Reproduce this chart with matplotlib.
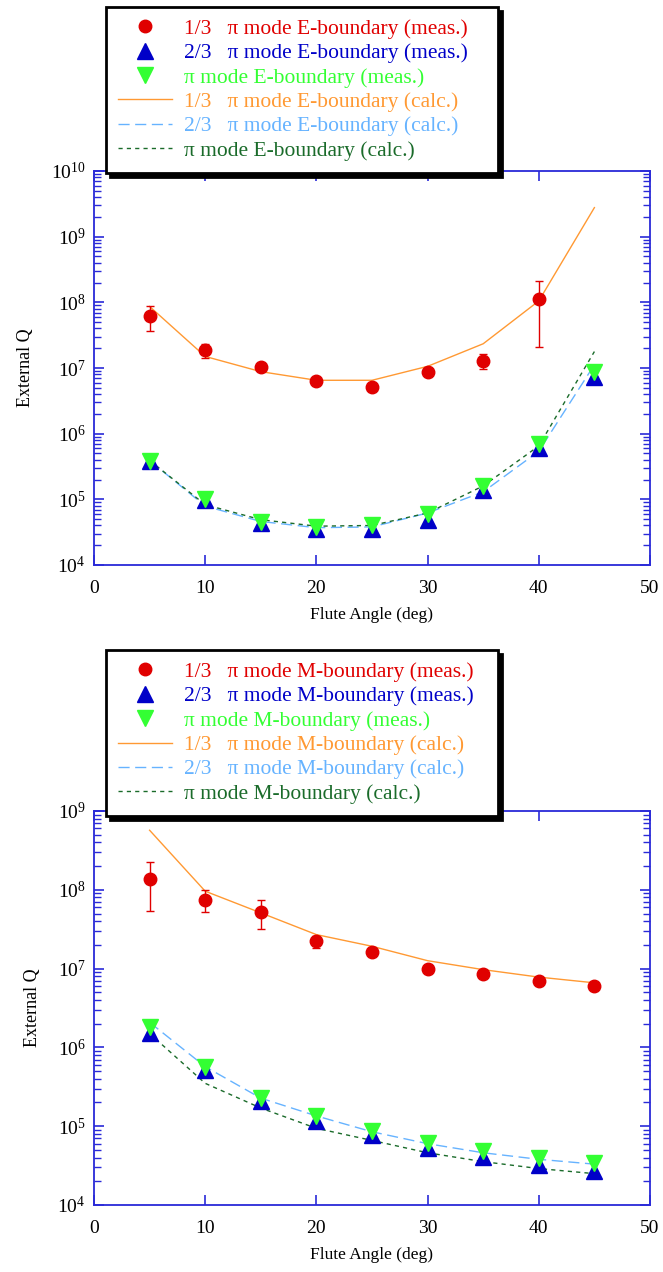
import matplotlib
matplotlib.use("Agg")
import matplotlib.pyplot as plt
from matplotlib.ticker import LogLocator, NullFormatter, FixedLocator
from matplotlib.lines import Line2D

plt.rcParams['font.family'] = ['Liberation Serif', 'DejaVu Serif']
plt.rcParams['mathtext.default'] = 'regular'

# ---------------- data ----------------
angles = [5, 10, 15, 20, 25, 30, 35, 40, 45]
angles_e13 = [5, 10, 15, 20, 25, 30, 35, 40]

# E-boundary
e13_meas = [6.2e7, 1.85e7, 1.03e7, 6.3e6, 5.2e6, 8.6e6, 1.28e7, 1.13e8]
e13_hi = [8.9e7, 2.3e7, 1.08e7, 6.6e6, 5.45e6, 9.0e6, 1.61e7, 2.08e8]
e13_lo = [3.65e7, 1.42e7, 9.8e6, 6.0e6, 4.95e6, 8.2e6, 9.6e6, 2.08e7]
e23_meas = [3.9e5, 9.9e4, 4.3e4, 3.5e4, 3.55e4, 4.9e4, 1.41e5, 6.1e5, 7.2e6]
epi_meas = [3.8e5, 1.0e5, 4.5e4, 3.8e4, 4.1e4, 5.9e4, 1.62e5, 7.0e5, 8.7e6]
e13_calc = [8.65e7, 1.50e7, 8.8e6, 6.5e6, 6.5e6, 1.06e7, 2.34e7, 1.05e8, 2.77e9]
e23_calc = [3.9e5, 7.9e4, 4.6e4, 3.7e4, 3.8e4, 6.2e4, 1.3e5, 5.4e5, 1.12e7]
epi_calc = [3.9e5, 8.3e4, 4.9e4, 3.9e4, 4.0e4, 6.2e4, 1.6e5, 6.5e5, 1.78e7]

# M-boundary
m13_meas = [1.39e8, 7.5e7, 5.3e7, 2.27e7, 1.61e7, 1.0e7, 8.55e6, 6.9e6, 6.1e6]
m13_hi = [2.27e8, 9.9e7, 7.4e7, 2.57e7, 1.68e7, 1.04e7, 8.9e6, 7.2e6, 6.35e6]
m13_lo = [5.36e7, 5.2e7, 3.2e7, 1.83e7, 1.54e7, 0.96e7, 8.2e6, 6.6e6, 5.85e6]
m23_meas = [1.52e6, 5.1e5, 2.1e5, 1.18e5, 7.8e4, 5.25e4, 4.1e4, 3.2e4, 2.7e4]
mpi_meas = [1.81e6, 5.7e5, 2.3e5, 1.33e5, 8.8e4, 6.2e4, 4.8e4, 4.0e4, 3.4e4]
m13_calc = [5.7e8, 9.6e7, 5.1e7, 2.7e7, 1.92e7, 1.26e7, 9.7e6, 7.8e6, 6.6e6]
m23_calc = [2.08e6, 5.7e5, 2.27e5, 1.35e5, 8.5e4, 6.0e4, 4.6e4, 3.8e4, 3.3e4]
mpi_calc = [1.5e6, 3.5e5, 1.7e5, 9.4e4, 6.6e4, 4.6e4, 3.55e4, 2.9e4, 2.5e4]

x_ticks = [0, 10, 20, 30, 40, 50]

# ---------------- style ----------------
RED = '#e00000'
BLUE = '#0000c8'
GREEN = '#33ff33'
ORANGE = '#ff9933'
LBLUE = '#66b3ff'
DGREEN = '#1a6b2a'
AXC = '#2a2ad8'

W, H = 663, 1272
fig = plt.figure(figsize=(W / 100, H / 100), dpi=100)


def px_axes(left, top, right, bottom):
    return fig.add_axes([left / W, 1 - bottom / H, (right - left) / W, (bottom - top) / H])


def make_panel(ax, tag, x13, m13, hi13, lo13, m23, mpi, c13, c23, cpi, ylim, leg_box):
    l_c13, = ax.plot(angles, c13, color=ORANGE, lw=1.0, zorder=2)
    l_c23, = ax.plot(angles, c23, color=LBLUE, lw=1.0, dashes=(8, 4), zorder=2)
    l_cpi, = ax.plot(angles, cpi, color=DGREEN, lw=1.0, dashes=(3, 3), zorder=2)
    yerr = [[m - lo for m, lo in zip(m13, lo13)], [hi - m for m, hi in zip(m13, hi13)]]
    ax.errorbar(x13, m13, yerr=yerr, fmt='o', color=RED, ms=9, mec=RED,
                ecolor=RED, elinewidth=1.0, capsize=3, capthick=1.0, zorder=4)
    h23, = ax.plot(angles, m23, '^', color=BLUE, ms=11.5, mec=BLUE, ls='none', zorder=5)
    hpi, = ax.plot(angles, mpi, 'v', color=GREEN, ms=11.5, mec=GREEN, ls='none', zorder=6)

    ax.set_yscale('log')
    ax.set_xlim(0, 50)
    ax.set_ylim(*ylim)
    ax.xaxis.set_major_locator(FixedLocator(x_ticks))
    ax.yaxis.set_major_locator(LogLocator(base=10, numticks=20))
    ax.yaxis.set_minor_locator(LogLocator(base=10, subs=range(2, 10), numticks=20))
    ax.yaxis.set_minor_formatter(NullFormatter())
    for s in ax.spines.values():
        s.set_color(AXC)
        s.set_linewidth(1.3)
    ax.tick_params(which='both', direction='in', top=True, right=True, color=AXC,
                   labelcolor='black', labelsize=14)
    ax.tick_params(which='major', length=7, width=1.2)
    ax.tick_params(which='minor', length=5, width=1.0)
    ax.tick_params(axis='x', which='major', pad=10.5)
    ax.tick_params(axis='y', which='major', pad=6)
    ax.set_xlabel('Flute Angle (deg)', fontsize=12.5, labelpad=7.5)
    ax.set_ylabel('External Q', fontsize=13, labelpad=12)

    labels = [
        '1/3   \u03c0 mode %s-boundary (meas.)' % tag,
        '2/3   \u03c0 mode %s-boundary (meas.)' % tag,
        '\u03c0 mode %s-boundary (meas.)' % tag,
        '1/3   \u03c0 mode %s-boundary (calc.)' % tag,
        '2/3   \u03c0 mode %s-boundary (calc.)' % tag,
        '\u03c0 mode %s-boundary (calc.)' % tag,
    ]
    colors = [RED, BLUE, GREEN, ORANGE, LBLUE, DGREEN]
    hr = Line2D([], [], marker='o', color=RED, ms=9, ls='none')
    x0, y0, x1 = leg_box
    leg = ax.legend([hr, h23, hpi, l_c13, l_c23, l_cpi], labels,
                    loc='upper left', mode='expand',
                    bbox_to_anchor=(x0 / W, 1 - y0 / H - 0.2, (x1 - x0) / W, 0.2),
                    bbox_transform=fig.transFigure, fontsize=15.5,
                    frameon=True, fancybox=False,
                    shadow={'ox': 3, 'oy': -3, 'color': 'black', 'alpha': 1.0},
                    edgecolor='black', framealpha=1.0,
                    handlelength=2.5, handletextpad=0.55, labelspacing=0.2,
                    borderpad=0.55, numpoints=1, borderaxespad=0)
    leg.get_frame().set_linewidth(2.0)
    for t, c in zip(leg.get_texts(), colors):
        t.set_color(c)
    leg.set_zorder(20)


ax1 = px_axes(94, 171, 650, 565)
make_panel(ax1, 'E', angles_e13, e13_meas, e13_hi, e13_lo, e23_meas, epi_meas,
           e13_calc, e23_calc, epi_calc, (1e4, 1e10), (106, 7, 498))

ax2 = px_axes(94, 811, 650, 1205)
make_panel(ax2, 'M', angles, m13_meas, m13_hi, m13_lo, m23_meas, mpi_meas,
           m13_calc, m23_calc, mpi_calc, (1e4, 1e9), (106, 650, 498))

fig.savefig('out.png', dpi=100)
